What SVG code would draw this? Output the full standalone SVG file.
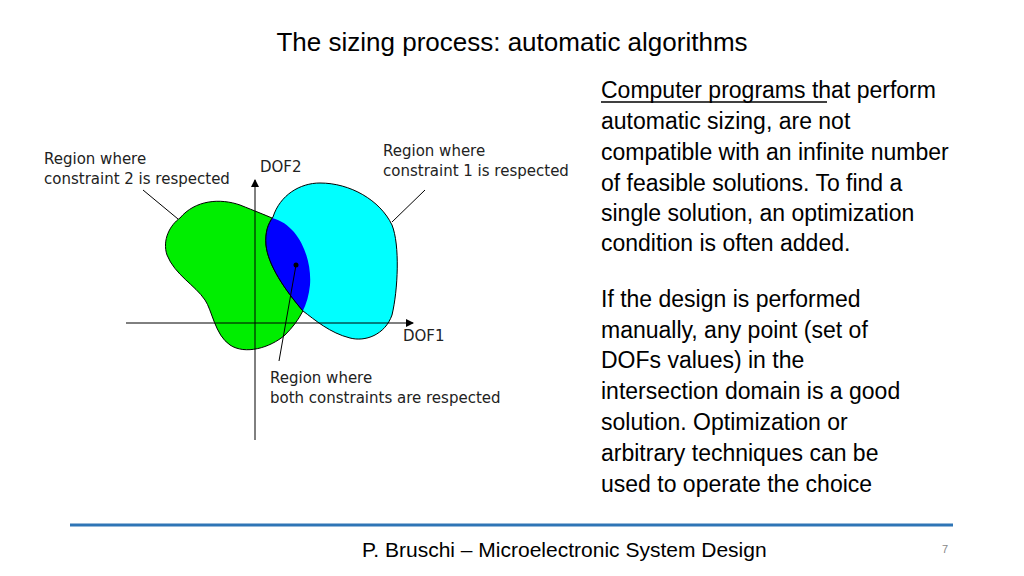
<svg xmlns="http://www.w3.org/2000/svg" width="1024" height="576" viewBox="0 0 1024 576">
<style>
.t{font-family:"Liberation Sans",Arial,sans-serif;fill:#000}
.d{font-family:"DejaVu Sans",Verdana,sans-serif;font-size:15px;fill:#222}
.ln{stroke:#000;stroke-width:1;fill:none}
</style>
<defs>
<marker id="ar" markerWidth="8" markerHeight="8" refX="7" refY="4" orient="auto" markerUnits="userSpaceOnUse"><path d="M0,0 L8,4 L0,8 Z" fill="#000"/></marker>
<path id="g" d="M180,218 C195,200 220,198 240,205 C255,211 265,215 272,218 C300,225 312,260 310,285 C308,305 300,320 285,335 C270,348 245,355 230,345 C215,335 212,310 205,300 C195,285 175,275 167,255 C162,240 170,225 180,218 Z"/>
<path id="c" d="M273,217 C280,195 300,183 320,183 C350,183 380,200 392,225 C400,245 398,290 392,315 C385,335 365,342 350,338 C330,333 315,320 303,311 C285,290 268,265 266,245 C265,232 268,224 273,217 Z"/>
<clipPath id="gc"><use href="#g"/></clipPath>
</defs>
<rect width="1024" height="576" fill="#fff"/>
<text class="t" x="512" y="51" font-size="26" text-anchor="middle">The sizing process: automatic algorithms</text>
<g id="regions">
<use href="#g" fill="#00ee00" stroke="#000" stroke-width="1"/>
<use href="#c" fill="#00ffff" stroke="#000" stroke-width="1"/>
<use href="#c" fill="#0000ff" stroke="#000" stroke-width="1" clip-path="url(#gc)"/>
<circle cx="296" cy="265" r="2.5" fill="#000"/>
</g>
<g id="connectors">
<line class="ln" x1="255" y1="440" x2="255" y2="180" marker-end="url(#ar)"/>
<line class="ln" x1="126" y1="323" x2="413" y2="323" marker-end="url(#ar)"/>
<line class="ln" x1="296" y1="265" x2="279" y2="361"/>
<line class="ln" x1="425" y1="190" x2="392" y2="222"/>
<line class="ln" x1="143" y1="190" x2="178" y2="219"/>
</g>
<g id="labels">
<text class="d" x="44" y="164">Region where</text>
<text class="d" x="44" y="184">constraint 2 is respected</text>
<text class="d" x="260" y="172">DOF2</text>
<text class="d" x="383" y="156">Region where</text>
<text class="d" x="383" y="176">constraint 1 is respected</text>
<text class="d" x="403" y="341">DOF1</text>
<text class="d" x="270" y="383">Region where</text>
<text class="d" x="270" y="403">both constraints are respected</text>
</g>
<g id="body" class="t" font-size="23">
<text x="601" y="98">Computer programs that perform</text>
<line x1="601" y1="102" x2="827" y2="102" stroke="#000" stroke-width="1.5"/>
<text x="601" y="129">automatic sizing, are not</text>
<text x="601" y="160">compatible with an infinite number</text>
<text x="601" y="191">of feasible solutions. To find a</text>
<text x="601" y="221">single solution, an optimization</text>
<text x="601" y="251">condition is often added.</text>
<text x="601" y="307">If the design is performed</text>
<text x="601" y="338">manually, any point (set of</text>
<text x="601" y="368">DOFs values) in the</text>
<text x="601" y="399">intersection domain is a good</text>
<text x="601" y="430">solution. Optimization or</text>
<text x="601" y="461">arbitrary techniques can be</text>
<text x="601" y="492">used to operate the choice</text>
</g>
<line x1="70" y1="525" x2="953" y2="525" stroke="#2e75b6" stroke-width="3"/>
<text class="t" x="362" y="557" font-size="21">P. Bruschi – Microelectronic System Design</text>
<text class="t" x="942" y="553" font-size="11" fill="#888" style="fill:#888">7</text>
</svg>
